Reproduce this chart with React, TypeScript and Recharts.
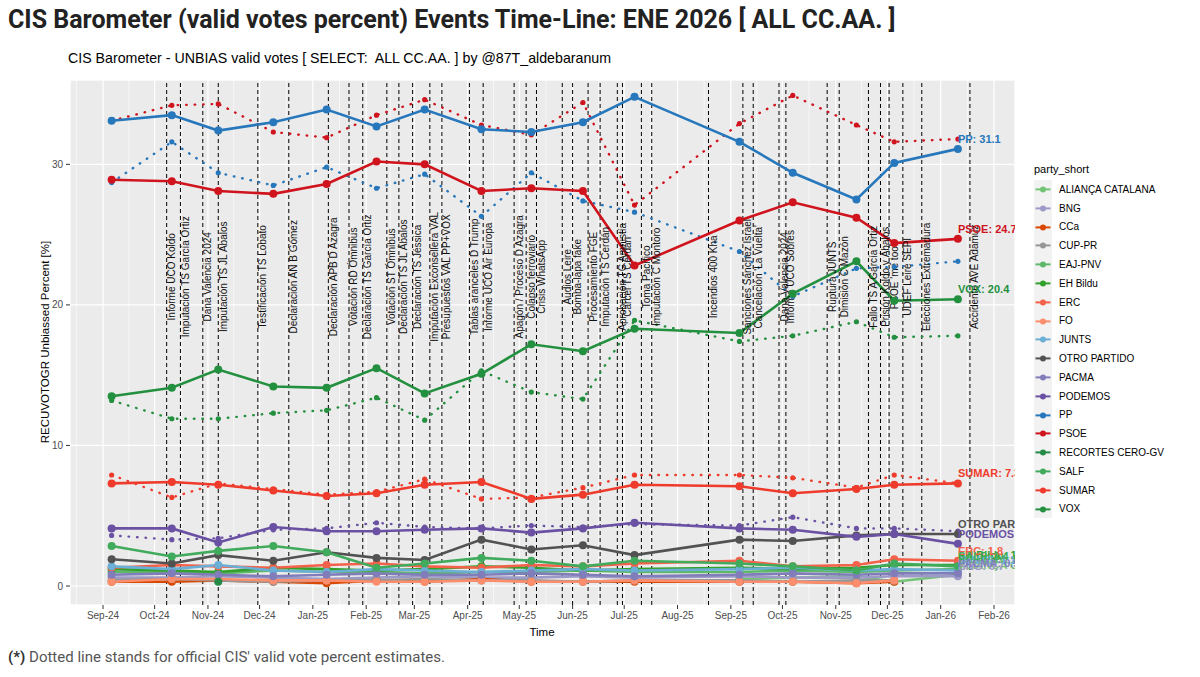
import React from 'react';
import { ComposedChart, Line, XAxis, YAxis, CartesianGrid, ReferenceLine, ReferenceDot, LabelList } from 'recharts';

// survey (fieldwork) dates
const SURVEY_DATES = [
  '2024-09-06', '2024-10-11', '2024-11-07', '2024-12-09', '2025-01-09', '2025-02-07',
  '2025-03-07', '2025-04-09', '2025-05-08', '2025-06-07', '2025-07-07', '2025-09-06',
  '2025-10-07', '2025-11-13', '2025-12-05', '2026-01-11',
];

const MONTH_TICKS = [
  '2024-09-01', '2024-10-01', '2024-11-01', '2024-12-01', '2025-01-01', '2025-02-01',
  '2025-03-01', '2025-04-01', '2025-05-01', '2025-06-01', '2025-07-01', '2025-08-01',
  '2025-09-01', '2025-10-01', '2025-11-01', '2025-12-01', '2026-01-01', '2026-02-01',
];
const Y_TICKS = [0, 10, 20, 30];
const Y_MINOR_TICKS = [5, 15, 25, 35];

const PARTIES = [
  'ALIANÇA CATALANA', 'BNG', 'CCa', 'CUP-PR', 'EAJ-PNV', 'EH Bildu', 'ERC', 'FO', 'JUNTS',
  'OTRO PARTIDO', 'PACMA', 'PODEMOS', 'PP', 'PSOE', 'RECORTES CERO-GV', 'SALF', 'SUMAR', 'VOX',
];
const PARTY_COLORS = [
  '#74C476', '#9E9AC8', '#D94801', '#969696', '#5DB86A', '#33A02C', '#F4614A', '#FC8D6D', '#6BAED6',
  '#525252', '#807DBA', '#6A51A3', '#2677BB', '#D0141E', '#238B45', '#41AB5D', '#EF3B2C', '#23903F',
];

// unbiased valid votes (solid)
const ALIANCA = [null, null, null, null, null, null, null, null, null, null, null, 0.5, 0.6, 0.7, 0.3, 0.8];
const BNG = [0.6, 0.6, 0.7, 0.6, 0.5, 0.6, 0.7, 0.6, 0.6, 0.7, 0.6, 0.7, 0.6, 0.6, 0.7, 0.7];
const CCA = [0.3, 0.3, 0.4, 0.3, 0.2, 0.4, 0.3, 0.5, 0.3, 0.3, 0.3, 0.3, 0.3, 0.2, 0.3, null];
const CUP = [0.4, 0.5, 0.4, 0.3, 0.4, 0.4, 0.5, 0.4, 0.4, 0.3, 0.4, 0.4, 0.3, 0.4, 0.4, null];
const PNV = [1.0, 1.0, 0.9, 1.1, 1.0, 1.0, 0.9, 1.0, 1.0, 1.1, 1.0, 1.0, 1.1, 1.0, 1.1, 1.2];
const BILDU = [1.2, 1.1, 1.0, 1.3, 1.2, 1.1, 1.2, 1.4, 1.3, 1.1, 1.2, 1.3, 1.2, 1.3, 1.5, 1.5];
const ERC = [1.3, 1.5, 1.4, 1.3, 1.5, 1.6, 1.4, 1.3, 1.5, 1.4, 1.6, 1.8, 1.4, 1.5, 1.9, 1.8];
const FO = [0.3, 0.5, 0.5, 0.4, 0.4, 0.3, 0.3, 0.4, 0.3, 0.3, 0.4, 0.3, 0.3, 0.2, 0.4, null];
const JUNTS = [1.4, 1.2, 1.5, 1.1, 1.0, 1.2, 1.1, 1.0, 1.1, 1.2, 1.1, 1.2, 1.3, 1.1, 1.2, 1.1];
const OTRO = [1.9, 1.6, 2.2, 1.8, 2.4, 2.0, 1.85, 3.3, 2.6, 2.9, 2.2, 3.3, 3.2, 3.6, 3.7, 3.7];
const PACMA = [0.8, 0.9, 0.8, 0.7, 0.8, 0.9, 0.8, 0.8, 0.9, 0.8, 0.7, 0.8, 0.9, 0.8, 0.9, 0.9];
const PODEMOS = [4.1, 4.1, 3.1, 4.2, 3.9, 3.9, 4.0, 4.1, 3.8, 4.1, 4.5, 4.1, 4.0, 3.5, 3.7, 3.0];
const PP = [33.1, 33.5, 32.4, 33.0, 33.9, 32.7, 33.9, 32.5, 32.3, 33.0, 34.8, 31.6, 29.4, 27.5, 30.1, 31.1];
const PSOE = [28.9, 28.8, 28.1, 27.9, 28.6, 30.2, 30.0, 28.1, 28.3, 28.1, 22.8, 26.0, 27.3, 26.2, 24.4, 24.7];
const RECORTES = [null, null, 0.3, null, null, null, null, null, null, null, null, null, null, null, null, null];
const SALF = [2.85, 2.1, 2.5, 2.85, 2.4, 1.3, 1.6, 2.0, 1.8, 1.4, 1.8, 1.6, 1.4, 1.1, 1.6, 1.4];
const SUMAR = [7.3, 7.4, 7.2, 6.8, 6.4, 6.6, 7.2, 7.4, 6.2, 6.5, 7.2, 7.1, 6.6, 6.9, 7.2, 7.3];
const VOX = [13.5, 14.1, 15.4, 14.2, 14.1, 15.5, 13.7, 15.1, 17.2, 16.7, 18.3, 18.0, 20.8, 23.1, 20.3, 20.4];

// official CIS estimates (dotted)
const PP_CIS = [28.7, 31.6, 29.4, 28.5, 29.8, 28.3, 29.3, 26.3, 29.4, 27.4, 26.6, 23.8, 20.6, 22.6, 22.7, 23.1];
const PSOE_CIS = [33.1, 34.2, 34.3, 32.3, 31.9, 33.5, 34.6, 32.8, 32.1, 34.4, 27.1, 32.9, 34.9, 32.8, 31.6, 31.8];
const VOX_CIS = [13.2, 11.9, 11.9, 12.3, 12.5, 13.4, 11.8, 15.3, 13.8, 13.3, 18.9, 17.4, 17.8, 18.8, 17.7, 17.8];
const SUMAR_CIS = [7.9, 6.3, 7.3, 6.9, 6.5, 6.7, 7.6, 6.2, 6.3, 7.0, 7.9, 7.9, 7.7, 7.0, 7.9, 7.3];
const PODEMOS_CIS = [3.6, 3.3, 3.4, 4.0, 4.1, 4.5, 4.2, 4.1, 4.3, 4.2, 4.4, 4.3, 4.9, 4.1, 4.1, 3.9];

const EVENT_DATES = [
  '2024-10-08', '2024-10-16', '2024-10-29', '2024-11-07', '2024-11-30', '2024-12-18',
  '2025-01-10', '2025-01-22', '2025-01-30', '2025-02-13', '2025-02-20', '2025-02-28',
  '2025-03-10', '2025-03-17', '2025-04-02', '2025-04-10', '2025-04-28', '2025-05-05',
  '2025-05-11', '2025-05-26', '2025-06-01', '2025-06-10', '2025-06-17', '2025-06-27',
  '2025-06-30', '2025-07-11', '2025-07-17', '2025-08-19', '2025-09-08', '2025-09-14',
  '2025-09-29', '2025-10-03', '2025-10-27', '2025-11-03', '2025-11-20', '2025-11-27',
  '2025-12-02', '2025-12-10', '2025-12-21', '2026-01-18',
];
const EVENT_LABELS = [
  'Informe UCO Koldo', 'Imputación TS García Ortiz', 'Dana Valencia 2024', 'Imputación TS JL Ábalos',
  'Testificación TS Lobato', 'Declaración AN B Gómez', 'Declaración APB D Azagra', 'Votación RD Ómnibus',
  'Declaración TS García Ortiz', 'Votación ST Ómnibus', 'Declaración TS JL Ábalos', 'Declaración TS Jéssica',
  'Imputación Exconsellera VAL', 'Presupuestos VAL PP+VOX', 'Tablas aranceles D Trump', 'Informe UCO Air Europa',
  'Apagón / Proceso D Azagra', 'Colapso ferroviario', 'Crisis WhatsApp', 'Audios Leire',
  'Bomba-lapa fake', 'Procesamiento FGE', 'Imputación TS Cerdán', 'Aprobación TC Amnistía',
  'Cárcel TS Cerdán', 'Toma Pacífico', 'Imputación C Montoro', 'Incendios 400 Kha',
  'Sanciones Sánchez Israel', "Cancelación 'La Vuelta'", 'Dana Valencia 2024', 'Informe UCO Sobres',
  'Ruptura JUNTS', 'Dimisión C Mazón', 'Fallo TS A García Ortiz', 'Prisión Koldo y Ábalos',
  "PSOE 'me too'", 'UDEF Leire SEPI', 'Elecciones Extremadura', 'Accidente AVE Adamuz',
];
const EVENT_LABEL_Y = 22.0;

const UNBIASED = [ALIANCA, BNG, CCA, CUP, PNV, BILDU, ERC, FO, JUNTS, OTRO, PACMA, PODEMOS, PP, PSOE, RECORTES, SALF, SUMAR, VOX];
const CIS: Record<string, number[]> = { PP: PP_CIS, PSOE: PSOE_CIS, VOX: VOX_CIS, SUMAR: SUMAR_CIS, PODEMOS: PODEMOS_CIS };

const DAY0 = Date.UTC(2024, 8, 1);
const toDay = (s: string) => {
  const [y, m, d] = s.split('-').map(Number);
  return (Date.UTC(y, m - 1, d) - DAY0) / 86400000;
};
const MONTHS = ['Jan', 'Feb', 'Mar', 'Apr', 'May', 'Jun', 'Jul', 'Aug', 'Sep', 'Oct', 'Nov', 'Dec'];
const fmtMonth = (day: number) => {
  const dt = new Date(DAY0 + day * 86400000);
  return `${MONTHS[dt.getUTCMonth()]}-${String(dt.getUTCFullYear() % 100).padStart(2, '0')}`;
};

const X_TICKS = MONTH_TICKS.map(toDay);
const X_MINOR = [X_TICKS[0] - 15.5, ...X_TICKS.slice(1).map((t, i) => (t + X_TICKS[i]) / 2)];
const X_DOMAIN = [-19.2, 530.2];
const Y_DOMAIN = [-1.35, 36.0];

const rows = SURVEY_DATES.map((d, i) => {
  const r: any = { day: toDay(d) };
  PARTIES.forEach((p, j) => {
    r[p] = UNBIASED[j][i];
    if (CIS[p]) r[`${p}_cis`] = CIS[p][i];
  });
  return r;
});

const CHART_W = 1020;
const CHART_H = 677;
const MARGIN = { top: 80, right: 5, bottom: 42, left: 40 };
const PLOT_RIGHT = CHART_W - MARGIN.right;
const AXIS_FONT = '"Liberation Sans", Arial, sans-serif';
const LAST = SURVEY_DATES.length - 1;

const makeDot = (color: string, r: number) => (p: any) =>
  p.cx == null || p.cy == null || p.value == null
    ? <g key={`n-${p.index}`} />
    : <circle key={`d-${p.index}`} cx={p.cx} cy={p.cy} r={r} fill={color} />;

const makeEndLabel = (party: string, color: string) => (p: any) => {
  if (p.index !== LAST || p.value == null) return <g key={`l-${p.index}`} />;
  return (
    <svg key={`l-${p.index}`} x={0} y={0} width={PLOT_RIGHT} height={CHART_H} overflow="hidden">
      <text x={p.x} y={p.y - 10} dy="0.35em" fill={color} fontSize={11} fontWeight="bold" fontFamily={AXIS_FONT}>
        {`${party}: ${Number(p.value).toFixed(1)}`}
      </text>
    </svg>
  );
};

const eventShape = (text: string) => (p: any) => (
  <text
    x={p.cx + 8.5}
    y={p.cy}
    transform={`rotate(-90 ${p.cx + 8.5} ${p.cy})`}
    textAnchor="middle"
    fontSize={10}
    fontFamily={AXIS_FONT}
    fill="#111"
  >
    {text}
  </text>
);

export default function App() {
  return (
    <div style={{ position: 'absolute', left: 0, top: 0, width: 1200, height: 677, background: '#fff', overflow: 'hidden' }}>
      <div style={{ position: 'absolute', left: 8, top: 5, fontFamily: 'Roboto, sans-serif', fontWeight: 700, fontSize: 25, lineHeight: '30px', color: '#222', whiteSpace: 'nowrap' }}>
        CIS Barometer (valid votes percent) Events Time-Line: ENE 2026 [ ALL CC.AA. ]
      </div>
      <div style={{ position: 'absolute', left: 68, top: 49, fontFamily: AXIS_FONT, fontSize: 14.2, lineHeight: '18px', color: '#000', whiteSpace: 'pre' }}>
        {'CIS Barometer - UNBIAS valid votes [ SELECT:  ALL CC.AA. ] by @87T_aldebaranum'}
      </div>

      <div style={{ position: 'absolute', left: 0, top: 0 }}>
        <ComposedChart width={CHART_W} height={CHART_H} data={rows} margin={MARGIN}>
          <XAxis xAxisId="minor" type="number" dataKey="day" domain={X_DOMAIN} ticks={X_MINOR} hide />
          <YAxis yAxisId="minor" type="number" domain={Y_DOMAIN} ticks={Y_MINOR_TICKS} hide />
          <CartesianGrid xAxisId="minor" yAxisId="minor" fill="#EBEBEB" stroke="#fff" strokeWidth={0.6} />
          <CartesianGrid stroke="#fff" strokeWidth={1.2} />
          <XAxis
            type="number"
            dataKey="day"
            domain={X_DOMAIN}
            ticks={X_TICKS}
            interval={0}
            tickFormatter={fmtMonth}
            axisLine={false}
            tickLine={{ stroke: '#333' }}
            tickSize={4}
            tickMargin={3}
            height={30}
            tick={{ fontSize: 10, fill: '#4D4D4D', fontFamily: AXIS_FONT }}
          />
          <YAxis
            type="number"
            domain={Y_DOMAIN}
            ticks={Y_TICKS}
            interval={0}
            axisLine={false}
            tickLine={{ stroke: '#333' }}
            tickSize={4}
            tickMargin={3}
            width={30}
            tick={{ fontSize: 10, fill: '#4D4D4D', fontFamily: AXIS_FONT }}
          />
          {EVENT_DATES.map((d, i) => (
            <ReferenceLine key={`ev-${i}`} x={toDay(d)} stroke="#000" strokeWidth={1} strokeDasharray="4 3" />
          ))}
          {EVENT_DATES.map((d, i) => (
            <ReferenceDot key={`evl-${i}`} x={toDay(d)} y={EVENT_LABEL_Y} r={0} ifOverflow="visible" shape={eventShape(EVENT_LABELS[i])} />
          ))}
          {PARTIES.filter((p) => CIS[p]).map((p) => {
            const color = PARTY_COLORS[PARTIES.indexOf(p)];
            return (
              <Line
                key={`${p}-cis`}
                type="linear"
                dataKey={`${p}_cis`}
                stroke={color}
                strokeWidth={2.4}
                strokeDasharray="0.5 8"
                strokeLinecap="round"
                dot={makeDot(color, 2.6)}
                activeDot={false}
                isAnimationActive={false}
              />
            );
          })}
          {PARTIES.map((p, j) => (
            <Line
              key={p}
              type="linear"
              dataKey={p}
              stroke={PARTY_COLORS[j]}
              strokeWidth={2.6}
              dot={makeDot(PARTY_COLORS[j], 4)}
              activeDot={false}
              isAnimationActive={false}
            >
              <LabelList dataKey={p} content={makeEndLabel(p, PARTY_COLORS[j])} />
            </Line>
          ))}
        </ComposedChart>
      </div>

      <div style={{ position: 'absolute', left: 45, top: 342, width: 0, height: 0 }}>
        <div style={{ position: 'absolute', left: -200, top: -8, width: 400, textAlign: 'center', transform: 'rotate(-90deg)', fontFamily: AXIS_FONT, fontSize: 11.5, lineHeight: '16px', color: '#000', whiteSpace: 'nowrap' }}>
          RECUVOTOGR Unbiassed Percent [%]
        </div>
      </div>
      <div style={{ position: 'absolute', left: 442, top: 624, width: 200, textAlign: 'center', fontFamily: AXIS_FONT, fontSize: 11.5, lineHeight: '16px', color: '#000' }}>
        Time
      </div>

      <div style={{ position: 'absolute', left: 1034, top: 158, fontFamily: AXIS_FONT, color: '#000' }}>
        <div style={{ fontSize: 11, height: 22, lineHeight: '22px' }}>party_short</div>
        {PARTIES.map((p, j) => (
          <div key={p} style={{ display: 'flex', alignItems: 'center', height: 18.8 }}>
            <svg width={18} height={18.8} style={{ background: '#F2F2F2', display: 'block' }}>
              <line x1={1.5} x2={16.5} y1={9.4} y2={9.4} stroke={PARTY_COLORS[j]} strokeWidth={2} />
              <circle cx={9} cy={9.4} r={3} fill={PARTY_COLORS[j]} />
            </svg>
            <span style={{ marginLeft: 7, fontSize: 10, whiteSpace: 'nowrap' }}>{p}</span>
          </div>
        ))}
      </div>

      <div style={{ position: 'absolute', left: 8, top: 647, fontFamily: 'Roboto, sans-serif', fontSize: 15, lineHeight: '20px', color: '#555', whiteSpace: 'nowrap' }}>
        <span style={{ fontWeight: 700, color: '#333' }}>(*)</span> Dotted line stands for official CIS' valid vote percent estimates.
      </div>
    </div>
  );
}
